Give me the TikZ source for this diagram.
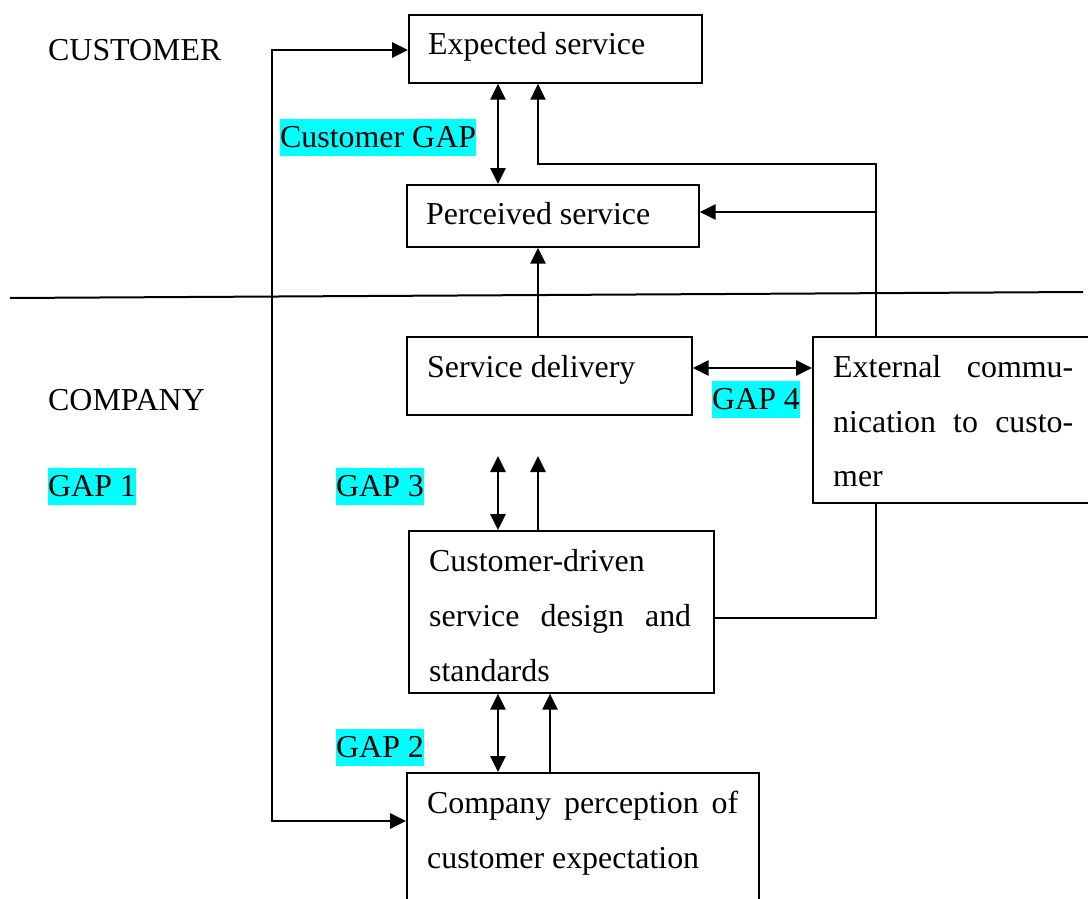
\documentclass[tikz,border=0pt]{standalone}
\usepackage{fontspec}
\setmainfont{Liberation Serif}
\usetikzlibrary{arrows.meta}
\definecolor{hlcyan}{RGB}{0,255,255}
\tikzset{
  txt/.style={font=\fontsize{31.9}{55}\selectfont, inner sep=0pt},
  box/.style={draw, line width=1.7pt, inner sep=0pt, anchor=north west},
  hl/.style={txt, fill=hlcyan, text height=28pt, text depth=9pt, anchor=base west},
  conn/.style={line width=2.7pt},
  arr1/.style={conn, -{Triangle[length=16pt,width=15pt]}},
  arr2/.style={conn, {Triangle[length=16pt,width=15pt]}-{Triangle[length=16pt,width=15pt]}},
  plain/.style={line width=1.7pt}
}
\begin{document}
\begin{tikzpicture}[x=1pt,y=-1pt]
\useasboundingbox (0,0) rectangle (1088,899);

% boxes
\node[box, minimum width=293pt, minimum height=68pt] (exp) at (408,14) {};
\node[box, minimum width=292pt, minimum height=62pt] (perc) at (406,184) {};
\node[box, minimum width=285pt, minimum height=78pt] (sd) at (406,336) {};
\node[box, minimum width=290pt, minimum height=166pt] (ext) at (812,336) {};
\node[box, minimum width=305pt, minimum height=162pt] (cd) at (408,530) {};
\node[box, minimum width=352pt, minimum height=160pt] (cp) at (406,772) {};

% box texts
\node[txt, anchor=base west] (expT) at (428,55) {Expected service};
\node[txt, anchor=base west] (percT) at (426,224) {Perceived service};
\node[txt, anchor=base west] (sdT) at (427,377) {Service delivery};
\node[txt, anchor=base west] (extT1) at (833,377) {\makebox[240pt][s]{External commu-}};
\node[txt, anchor=base west] (extT2) at (833,432) {\makebox[240pt][s]{nication to custo-}};
\node[txt, anchor=base west] (extT3) at (833,486) {mer};
\node[txt, anchor=base west] (cdT1) at (429,571) {Customer-driven};
\node[txt, anchor=base west] (cdT2) at (429,626) {\makebox[262pt][s]{service design and}};
\node[txt, anchor=base west] (cdT3) at (429,681) {standards};
\node[txt, anchor=base west] (cpT1) at (427,813) {\makebox[311pt][s]{Company perception of}};
\node[txt, anchor=base west] (cpT2) at (427,868) {customer expectation};

% side labels
\node[txt, anchor=base west] (cust) at (48,61) {CUSTOMER};
\node[txt, anchor=base west] (comp) at (48,410) {COMPANY};
\node[hl] (gap1) at (48,496) {GAP 1};
\node[hl] (cgap) at (280,147) {Customer GAP};
\node[hl] (gap3) at (336,496) {GAP 3};
\node[hl] (gap4) at (712,409) {GAP 4};
\node[hl] (gap2) at (336,757) {GAP 2};

% divider between customer and company
\coordinate (dl) at (10,298);
\coordinate (dr) at (1083,292);
\draw[line width=2pt] (dl) -- (dr);

% guide coordinates
\coordinate (xL) at (272,0);
\coordinate (xA) at (498,0);
\coordinate (xB) at (538,0);
\coordinate (xC) at (550,0);
\coordinate (xR) at (876,0);
\coordinate (yTop) at (0,164);
\coordinate (yPerc) at (0,212);
\coordinate (yG4) at (0,368);
\coordinate (yG3) at (0,456);
\coordinate (yCD) at (0,618);
\coordinate (yExp) at (0,50);
\coordinate (yCP) at (0,821);

% left feedback loop
\draw[arr2] (exp.west |- yExp) -- (xL |- yExp) -- (xL |- yCP) -- (cp.west |- yCP);

% customer gap
\draw[arr2] (exp.south -| xA) -- (perc.north -| xA);

% external communication feeds expectations and perception
\draw[arr1, line width=2pt] (ext.north -| xR) -- (xR |- yTop) -- (xB |- yTop) -- (exp.south -| xB);
\draw[arr1] (xR |- yPerc) -- (perc.east |- yPerc);

% delivery to perception
\draw[arr1] (sd.north -| xB) -- (perc.south -| xB);

% gap 4
\draw[arr2] (sd.east |- yG4) -- (ext.west |- yG4);

% gap 3
\draw[arr2] (xA |- yG3) -- (cd.north -| xA);
\draw[arr1] (cd.north -| xB) -- (xB |- yG3);

% design to external communication
\draw[plain] (cd.east |- yCD) -- (xR |- yCD) -- (ext.south -| xR);

% gap 2
\draw[arr2] (cd.south -| xA) -- (cp.north -| xA);
\draw[arr1] (cp.north -| xC) -- (cd.south -| xC);
\end{tikzpicture}
\end{document}
